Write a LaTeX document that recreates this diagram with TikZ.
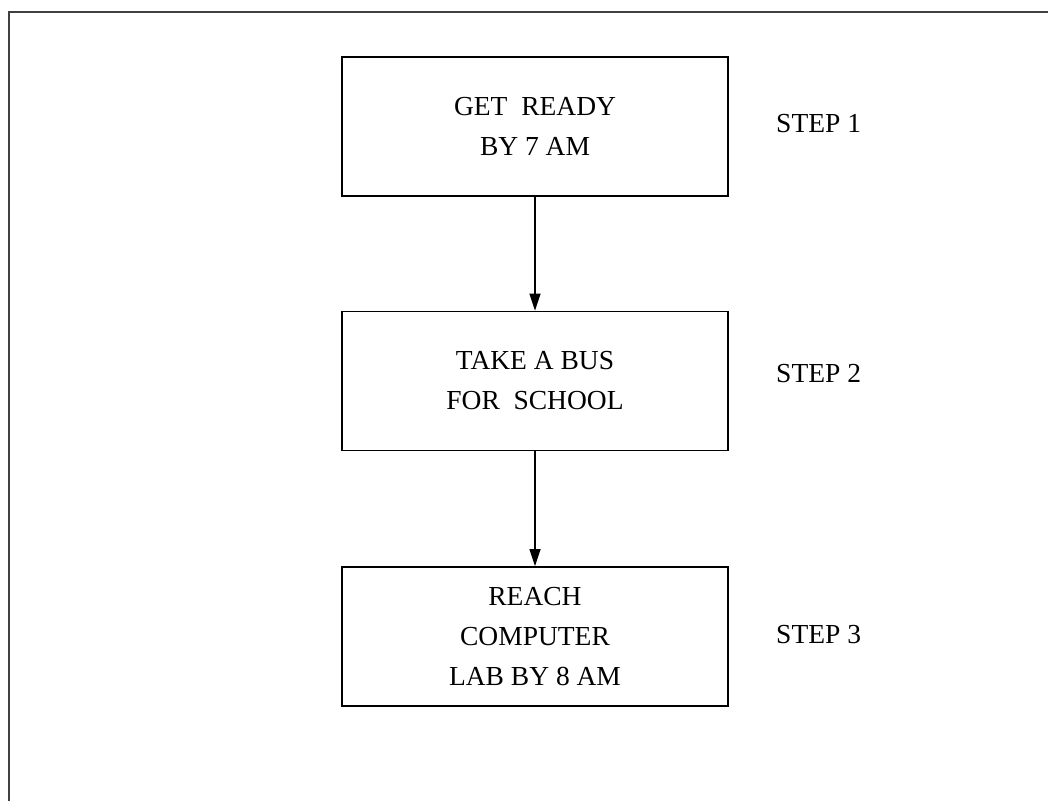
\documentclass[tikz,border=0pt]{standalone}
\usepackage{fontspec}
\setmainfont{Liberation Serif}
\usetikzlibrary{arrows.meta}
\begin{document}
\begin{tikzpicture}[x=1pt,y=-1pt,
  stepbox/.style={draw=black,line width=1.8pt,minimum width=386pt,minimum height=139pt,
    inner sep=0pt,align=center,font=\fontsize{27.5}{40}\selectfont},
  steplabel/.style={anchor=base west,inner sep=0pt,font=\fontsize{27.5}{40}\selectfont},
  flow/.style={line width=1.5pt,-{Triangle[length=17pt,width=11pt]}}]
  \clip (0,0) rectangle (1048,800);
  % outer frame, running past the right and bottom edges
  \draw[line width=2pt,draw=black!75] (9,12) rectangle (1070,830);
  % the three steps
  \node[stepbox] (b1) at (535,126.5) {GET~~READY\\BY 7 AM};
  \node[stepbox] (b2) at (535,381) {TAKE A BUS\\FOR~~SCHOOL};
  \node[stepbox] (b3) at (535,636.5) {REACH\\COMPUTER\\LAB BY 8 AM};
  \node[steplabel] (s1) at (776,132.7) {STEP 1};
  \node[steplabel] (s2) at (776,382.7) {STEP 2};
  \node[steplabel] (s3) at (776,643.3) {STEP 3};
  % connectors
  \draw[flow] (b1.south) -- (b2.north);
  \draw[flow] (b2.south) -- (b3.north);
\end{tikzpicture}
\end{document}
